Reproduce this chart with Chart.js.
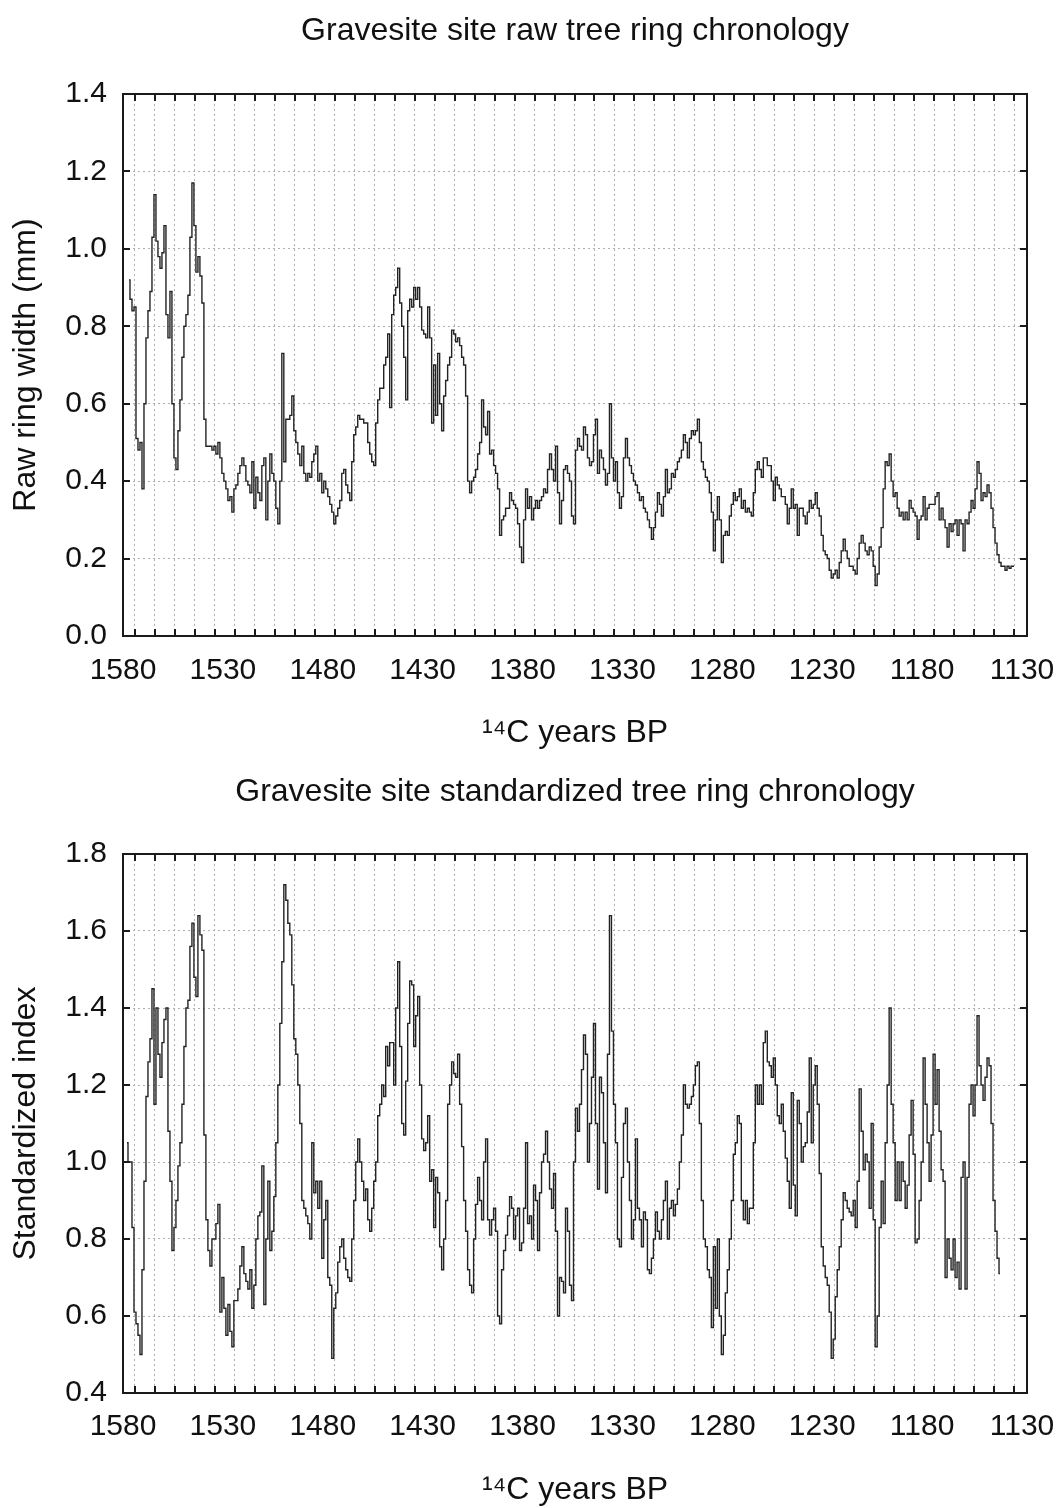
<!DOCTYPE html>
<html><head><meta charset="utf-8">
<script src="https://cdn.jsdelivr.net/npm/chart.js@4.4.1/dist/chart.umd.min.js"></script>
<style>
html,body{margin:0;padding:0;background:#fff;}
#wrap{position:relative;width:1061px;height:1508px;background:#fff;}
canvas{position:absolute;left:0;}
#c1{top:0;} #c2{top:760px;}
</style></head><body>
<div id="wrap"><canvas id="c1" width="1061" height="760"></canvas><canvas id="c2" width="1061" height="748"></canvas></div>
<script>
// ---------- data ----------
const rawStartYear = 1577;   // one value per year, going back in time (1577 -> 1134)
const rawWidth = [
0.92,0.87,0.84,0.85,0.51,0.48,0.50,0.38,0.60,0.77,
0.84,0.89,1.03,1.14,1.02,0.98,0.95,0.99,1.06,0.83,
0.77,0.89,0.60,0.46,0.43,0.53,0.61,0.72,0.80,0.83,
0.88,1.03,1.17,1.06,0.94,0.98,0.93,0.86,0.56,0.49,
0.49,0.49,0.48,0.49,0.47,0.50,0.46,0.42,0.40,0.38,
0.35,0.36,0.32,0.38,0.39,0.42,0.44,0.46,0.44,0.40,
0.39,0.37,0.45,0.33,0.41,0.37,0.35,0.44,0.46,0.30,
0.40,0.47,0.42,0.40,0.33,0.29,0.40,0.73,0.45,0.56,
0.56,0.57,0.62,0.53,0.50,0.47,0.44,0.49,0.42,0.40,
0.42,0.41,0.45,0.47,0.49,0.40,0.42,0.37,0.40,0.38,
0.36,0.34,0.32,0.29,0.31,0.33,0.35,0.42,0.43,0.39,
0.37,0.35,0.45,0.52,0.54,0.57,0.56,0.56,0.55,0.55,
0.50,0.47,0.45,0.44,0.55,0.61,0.64,0.64,0.70,0.72,
0.78,0.59,0.83,0.88,0.90,0.95,0.86,0.80,0.72,0.61,
0.84,0.87,0.85,0.90,0.87,0.90,0.85,0.79,0.78,0.77,0.85,
0.77,0.55,0.70,0.57,0.73,0.60,0.53,0.62,0.66,0.70,
0.72,0.79,0.78,0.76,0.77,0.75,0.72,0.70,0.62,0.40,
0.37,0.40,0.41,0.43,0.47,0.50,0.61,0.54,0.52,0.58,
0.47,0.48,0.44,0.42,0.38,0.26,0.30,0.31,0.33,0.33,
0.37,0.35,0.34,0.33,0.29,0.23,0.19,0.30,0.38,0.33,
0.36,0.30,0.33,0.35,0.33,0.35,0.36,0.38,0.37,0.43,
0.47,0.43,0.40,0.49,0.37,0.29,0.35,0.43,0.44,0.42,
0.40,0.31,0.29,0.48,0.51,0.49,0.48,0.54,0.52,0.46,
0.44,0.45,0.52,0.56,0.42,0.48,0.46,0.43,0.39,0.42,
0.60,0.46,0.40,0.45,0.37,0.33,0.36,0.46,0.51,0.46,
0.44,0.42,0.40,0.39,0.37,0.35,0.36,0.33,0.32,0.30,
0.28,0.25,0.28,0.32,0.37,0.34,0.31,0.36,0.43,0.37,
0.38,0.42,0.41,0.43,0.45,0.46,0.48,0.52,0.50,0.46,
0.51,0.53,0.52,0.53,0.56,0.50,0.45,0.43,0.41,0.40,
0.37,0.32,0.22,0.30,0.36,0.30,0.19,0.26,0.27,0.26,
0.31,0.34,0.37,0.35,0.36,0.38,0.33,0.35,0.32,0.33,
0.32,0.31,0.37,0.43,0.45,0.43,0.41,0.46,0.46,0.44,
0.44,0.40,0.35,0.41,0.39,0.38,0.36,0.36,0.34,0.29,
0.33,0.38,0.33,0.34,0.26,0.33,0.33,0.31,0.29,0.32,
0.35,0.33,0.34,0.37,0.33,0.31,0.26,0.22,0.21,0.20,0.17,
0.15,0.16,0.17,0.15,0.19,0.22,0.25,0.22,0.20,0.18,
0.18,0.17,0.16,0.20,0.24,0.26,0.24,0.22,0.21,0.23,
0.22,0.18,0.13,0.16,0.23,0.28,0.38,0.45,0.44,0.47,
0.40,0.36,0.37,0.33,0.31,0.32,0.30,0.32,0.30,0.35,
0.33,0.32,0.31,0.25,0.30,0.31,0.36,0.30,0.33,0.34,
0.34,0.34,0.36,0.37,0.30,0.33,0.30,0.28,0.23,0.29,
0.27,0.29,0.30,0.26,0.30,0.29,0.22,0.30,0.29,0.32,
0.35,0.33,0.38,0.45,0.42,0.35,0.37,0.36,0.39,0.37,
0.33,0.28,0.24,0.21,0.19,0.18,0.18,0.17,0.18,0.175,
0.18,0.18
];

const stdStartYear = 1578;   // one value per year (1578 -> 1141)
const stdIndex = [
1.05,1.00,1.00,0.83,0.61,0.58,0.55,0.50,0.72,0.95,
1.17,1.26,1.32,1.45,1.15,1.40,1.28,1.22,1.31,1.37,
1.40,1.08,0.95,0.77,0.83,0.90,0.99,1.05,1.15,1.30,
1.40,1.42,1.56,1.62,1.48,1.43,1.64,1.59,1.55,1.07,
0.85,0.77,0.73,0.80,0.80,0.84,0.89,0.61,0.70,0.62,
0.55,0.63,0.56,0.52,0.64,0.64,0.67,0.73,0.78,0.71,
0.69,0.67,0.72,0.62,0.68,0.80,0.86,0.87,0.99,0.63,
0.80,0.95,0.77,0.82,0.91,1.05,1.20,1.36,1.52,1.72,
1.68,1.62,1.59,1.46,1.32,1.28,1.20,1.10,0.90,0.88,
0.86,0.84,0.80,1.05,0.92,0.95,0.88,0.95,0.75,0.85,
0.90,0.70,0.68,0.49,0.62,0.66,0.74,0.78,0.80,0.75,
0.72,0.70,0.69,0.80,0.90,1.00,1.06,1.00,0.95,0.90,
0.93,0.85,0.82,0.88,0.95,1.00,1.12,1.15,1.20,1.17,
1.30,1.25,1.31,1.31,1.20,1.40,1.52,1.30,1.10,1.07,
1.21,1.36,1.47,1.46,1.30,1.38,1.43,1.20,1.06,1.03,1.05,
1.12,0.95,0.98,0.83,0.96,0.92,0.78,0.72,0.80,0.90,
1.15,1.20,1.26,1.23,1.22,1.28,1.15,1.04,0.90,0.82,
0.72,0.68,0.66,0.80,0.89,0.96,0.90,0.85,1.00,1.06,
0.85,0.81,0.85,0.88,0.82,0.60,0.58,0.72,0.77,0.81,
0.86,0.91,0.88,0.80,0.86,0.88,0.77,0.79,0.88,1.05,
0.84,0.86,0.80,0.94,0.90,0.77,0.92,1.00,1.02,1.08,
1.00,0.93,0.88,0.97,0.82,0.60,0.70,0.69,0.66,0.88,
0.82,0.68,0.64,1.00,1.14,1.08,1.15,1.24,1.33,1.28,
1.00,1.10,1.22,1.36,1.10,0.93,1.22,1.18,1.05,0.92,
1.28,1.64,1.34,1.15,1.05,0.80,0.78,0.96,1.10,1.14,
1.00,0.90,0.80,0.85,1.06,0.88,0.85,0.78,0.87,0.85,
0.72,0.71,0.75,0.80,0.87,0.82,0.80,0.85,0.90,0.95,
0.80,0.88,0.90,0.86,0.89,0.93,1.00,1.07,1.20,1.15,
1.14,1.15,1.17,1.20,1.25,1.26,1.10,0.90,0.80,0.78,
0.72,0.70,0.57,0.78,0.62,0.80,0.60,0.50,0.55,0.66,
0.72,0.80,0.90,1.02,1.05,1.12,1.10,0.90,0.85,0.90,
0.84,0.88,0.88,1.05,1.20,1.15,1.20,1.15,1.31,1.34,
1.26,1.25,1.22,1.27,1.20,1.12,1.10,1.15,1.08,1.01,
0.95,0.88,1.18,0.94,0.86,1.16,1.10,1.00,1.04,1.05,
1.13,1.27,1.05,1.20,1.25,1.15,0.97,0.78,0.73,0.70,0.68,
0.61,0.49,0.54,0.65,0.72,0.78,0.85,0.92,0.90,0.88,
0.87,0.86,0.90,0.83,0.95,1.19,1.08,0.98,1.02,1.00,
0.88,1.10,0.85,0.52,0.60,0.83,0.95,0.84,1.05,1.20,
1.40,1.15,1.05,0.90,1.00,0.90,1.00,0.95,0.88,0.94,
1.07,1.16,1.02,0.79,0.80,0.90,1.00,1.27,1.15,1.05,
0.95,1.07,1.28,1.15,1.24,1.08,0.98,0.95,0.70,0.80,
0.75,0.72,0.80,0.70,0.74,0.67,0.96,1.00,0.67,0.96,
1.15,1.20,1.12,1.20,1.38,1.25,1.20,1.16,1.22,1.27,
1.25,1.10,0.90,0.82,0.75,0.71
];

const xLabelYears = [1580,1530,1480,1430,1380,1330,1280,1230,1180,1130];
const xMinorYears = [1574,1564,1554,1544,1534,1524,1514,1504,1494,1484,1474,1464,1454,1444,1434,1424,1414,1404,1394,1384,1374,1364,1354,1344,1334,1324,1314,1304,1294,1284,1274,1264,1254,1244,1234,1224,1214,1204,1194,1184,1174,1164,1154,1144,1134];
const rawYTicks = [0.0,0.2,0.4,0.6,0.8,1.0,1.2,1.4];
const stdYTicks = [0.4,0.6,0.8,1.0,1.2,1.4,1.6,1.8];

// ---------- drawing ----------
const FONT = "'Liberation Sans', Arial, Helvetica, sans-serif";
Chart.defaults.font.family = FONT;
Chart.defaults.color = '#111';

const frameTicks = {
  id: 'frameTicks',
  afterDraw(chart, args, opts) {
    const {ctx, chartArea: a, scales: {x, y}} = chart;
    const L = 7;
    ctx.save();
    ctx.strokeStyle = '#1a1a1a';
    ctx.lineWidth = 2;
    ctx.beginPath();
    opts.xMinor.forEach(v => {
      const px = Math.round(x.getPixelForValue(v));
      ctx.moveTo(px, a.bottom); ctx.lineTo(px, a.bottom - L);
      ctx.moveTo(px, a.top); ctx.lineTo(px, a.top + L);
    });
    opts.yTicks.forEach(v => {
      const py = Math.round(y.getPixelForValue(v));
      ctx.moveTo(a.left, py); ctx.lineTo(a.left + L, py);
      ctx.moveTo(a.right, py); ctx.lineTo(a.right - L, py);
    });
    ctx.stroke();
    ctx.strokeRect(a.left, a.top, a.right - a.left, a.bottom - a.top);
    ctx.restore();
  }
};

function build(id, o) {
  const pts = o.values.map((v, i) => ({x: o.start - i, y: v}));
  return new Chart(document.getElementById(id), {
    type: 'line',
    data: { datasets: [{ data: pts, borderColor: '#232323', borderWidth: 1.4, pointRadius: 0, stepped: 'middle', fill: false }] },
    options: {
      responsive: false, animation: false, events: [],
      layout: { padding: { left: 0, right: 34, top: 0, bottom: 0 } },
      plugins: {
        legend: { display: false }, tooltip: { enabled: false },
        title: { display: true, fullSize: false, text: o.title, color: '#111', font: { size: 32, weight: 'normal' },
                 padding: { top: o.titleTop, bottom: 94 - o.titleTop - 38.4 } },
        frameTicks: { xMinor: xMinorYears, yTicks: o.yTicks }
      },
      scales: {
        x: {
          type: 'linear', reverse: true, min: 1127.5, max: 1580,
          afterBuildTicks: s => { s.ticks = [...xLabelYears, ...xMinorYears].sort((a, b) => a - b).map(v => ({ value: v })); },
          afterFit: s => { s.height = o.xHeight; },
          ticks: { autoSkip: false, maxRotation: 0, minRotation: 0, padding: o.xTickPad, color: '#111', font: { size: 30 },
                   callback: v => xLabelYears.includes(v) ? String(v) : '' },
          grid: { drawTicks: false, lineWidth: 1,
                  color: c => (c.tick && xLabelYears.includes(c.tick.value)) ? 'rgba(0,0,0,0)' : '#b0b0b0' },
          border: { display: false, dash: [2, 3] },
          title: { display: true, text: '¹⁴C years BP', color: '#111', font: { size: 32 }, padding: { top: 0, bottom: o.xTitlePad } }
        },
        y: {
          min: o.yTicks[0], max: o.yTicks[o.yTicks.length - 1],
          afterBuildTicks: s => { s.ticks = o.yTicks.map(v => ({ value: v })); },
          afterFit: s => { s.width = 123; },
          ticks: { padding: 16, color: '#111', font: { size: 30 }, callback: v => Number(v).toFixed(1) },
          grid: { drawTicks: false, color: '#b0b0b0', lineWidth: 1 },
          border: { display: false, dash: [2, 3] },
          title: { display: true, text: o.yTitle, color: '#111', font: { size: 32 }, padding: { top: 7, bottom: 0 } }
        }
      }
    },
    plugins: [frameTicks]
  });
}

build('c1', { values: rawWidth, start: rawStartYear, yTicks: rawYTicks,
  title: 'Gravesite site raw tree ring chronology', yTitle: 'Raw ring width (mm)',
  titleTop: 12, xHeight: 124, xTickPad: 17, xTitlePad: 8 });
build('c2', { values: stdIndex, start: stdStartYear, yTicks: stdYTicks,
  title: 'Gravesite site standardized tree ring chronology', yTitle: 'Standardized index',
  titleTop: 13, xHeight: 115, xTickPad: 16, xTitlePad: -1 });
</script>
</body></html>
